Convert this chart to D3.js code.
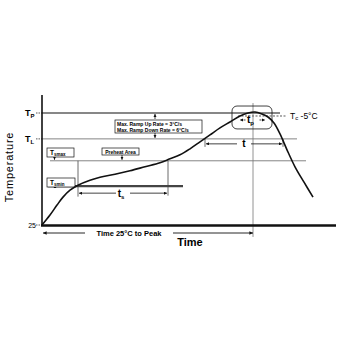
<!DOCTYPE html>
<html lang="en">
<head>
<meta charset="UTF-8">
<title>Reflow Profile</title>
<script src="https://cdnjs.cloudflare.com/ajax/libs/d3/7.8.5/d3.min.js"></script>
<style>
  body { margin: 0; background: #fff; }
  svg { display: block; font-family: Arial, "Liberation Sans", sans-serif; }
</style>
</head>
<body>
<svg id="svg" width="340" height="340"></svg>
<script>
// profile curve (time in s, temperature in schematic units)
const times = [0, 8, 15, 21, 28, 36, 48, 58, 73, 88, 103, 118, 128, 138, 148, 158, 168, 178, 188, 198, 206, 213, 220, 226, 232, 238, 245, 253, 262, 271];
const temps = [25, 45, 65, 81, 95, 105, 115, 121, 127, 134, 142, 150, 158, 166, 178, 192, 206, 220, 232, 244, 250, 252, 248, 242, 230, 208, 176, 142, 111, 81];

// reference levels
const levelNames = ["Tp", "TL", "Tsmax", "Tsmin"];
const levelTemps = [250, 198, 154, 103];
const levelStart = [0, 0, 8, 6];
const levelEnd = [238, 255, 264, 141];
const tcTemp = 244;

// time markers
const tsRange = [36, 126];
const tRange = [163, 241];
const tpRange = [198, 223];
const peakTime = 211;
const yTickLabels = ["TP", "TL", "25"];

const svg = d3.select("#svg");
const x = d3.scaleLinear().domain([0, 294]).range([42, 336]);
const y = d3.scaleLinear().domain([25, 250]).range([225, 113]);

const ink = "#111";
const grey = "#777";

svg.append("defs").append("marker")
  .attr("id", "ah").attr("viewBox", "0 0 6 6").attr("refX", 6).attr("refY", 3)
  .attr("markerWidth", 4).attr("markerHeight", 4).attr("orient", "auto-start-reverse")
  .append("path").attr("d", "M0,0L6,3L0,6Z").attr("fill", ink);

function hline(t0, t1, temp, color, w) {
  svg.append("line").attr("x1", x(t0)).attr("x2", x(t1))
    .attr("y1", y(temp)).attr("y2", y(temp))
    .attr("stroke", color).attr("stroke-width", w);
}
function vline(t, a, b, color, w) {
  svg.append("line").attr("x1", x(t)).attr("x2", x(t))
    .attr("y1", y(a)).attr("y2", y(b))
    .attr("stroke", color).attr("stroke-width", w);
}
function arrowH(t0, t1, temp, label, sub, dash) {
  const xm = (x(t0) + x(t1)) / 2;
  const gap = label ? 7 : 0;
  [[xm - gap, x(t0)], [xm + gap, x(t1)]].forEach(([a, b]) => {
    svg.append("line").attr("x1", a).attr("x2", b).attr("y1", y(temp)).attr("y2", y(temp))
      .attr("stroke", ink).attr("stroke-width", 0.8).attr("marker-end", "url(#ah)")
      .attr("stroke-dasharray", dash || null);
  });
  if (label) {
    const tx = svg.append("text").attr("x", xm - (sub ? 2 : 0)).attr("y", y(temp) + 3.5)
      .attr("text-anchor", "middle").attr("font-size", 10).attr("font-weight", "bold").text(label);
    if (sub) tx.append("tspan").attr("font-size", 6).attr("dy", 2).text(sub);
  }
}

// level lines
hline(levelStart[0], levelEnd[0], levelTemps[0], ink, 1.1);
hline(levelStart[1], levelEnd[1], levelTemps[1], grey, 0.9);
hline(levelStart[2], levelEnd[2], levelTemps[2], grey, 0.9);
hline(levelStart[3], levelEnd[3], levelTemps[3], "#444", 2.2);
// Tc - 5 dashed
svg.append("line").attr("x1", x(196)).attr("x2", x(244)).attr("y1", y(tcTemp)).attr("y2", y(tcTemp))
  .attr("stroke", ink).attr("stroke-width", 0.7).attr("stroke-dasharray", "2,1.5");
const tcText = svg.append("text").attr("x", x(248)).attr("y", y(tcTemp) + 3).attr("font-size", 8.5);
tcText.append("tspan").text("T");
tcText.append("tspan").attr("font-size", 6).attr("dy", 1.5).text("c");
tcText.append("tspan").attr("dy", -1.5).text(" -5°C");

// vertical guide lines
vline(tsRange[0], 154, 82, "#444", 0.8);
vline(tsRange[1], 154, 84, "#444", 0.8);
vline(tRange[0], 198, 182, "#444", 0.8);
vline(tRange[1], 198, 182, "#444", 0.8);
vline(peakTime, 270, 1, grey, 0.8);

// arrows
arrowH(tsRange[0] + 1, tsRange[1] - 1, 89, "t", "s");
arrowH(tRange[0] + 1, tRange[1] - 1, 188, "t", "");
arrowH(tpRange[0], tpRange[1], 236, "t", "p", "2,1");

// time 25C to peak
svg.append("line").attr("x1", x(0) + 1).attr("x2", x(peakTime)).attr("y1", 233).attr("y2", 233)
  .attr("stroke", ink).attr("stroke-width", 0.9)
  .attr("marker-end", "url(#ah)").attr("marker-start", "url(#ah)");
svg.append("rect").attr("x", 85).attr("y", 228).attr("width", 88).attr("height", 10).attr("fill", "#fff");
svg.append("text").attr("x", 129).attr("y", 236).attr("text-anchor", "middle")
  .attr("font-size", 7.5).attr("font-weight", "bold").text("Time 25°C to Peak");

// peak box
svg.append("rect").attr("x", x(190)).attr("y", y(264)).attr("width", x(230) - x(190))
  .attr("height", y(218) - y(264)).attr("rx", 5).attr("fill", "none")
  .attr("stroke", ink).attr("stroke-width", 0.8);

// ramp rate box with arrows
const rampLines = ["Max. Ramp Up Rate = 3°C/s", "Max. Ramp Down Rate = 6°C/s"];
svg.append("line").attr("x1", 155).attr("x2", 155).attr("y1", 119).attr("y2", y(levelTemps[0]) + 1)
  .attr("stroke", ink).attr("stroke-width", 0.8).attr("marker-end", "url(#ah)");
svg.append("line").attr("x1", 155).attr("x2", 155).attr("y1", 133).attr("y2", y(levelTemps[1]) - 1)
  .attr("stroke", ink).attr("stroke-width", 0.8).attr("marker-end", "url(#ah)");
svg.append("rect").attr("x", 115).attr("y", 120).attr("width", 87).attr("height", 13)
  .attr("fill", "#fff").attr("stroke", ink).attr("stroke-width", 0.7);
rampLines.forEach((s, i) => {
  svg.append("text").attr("x", 117).attr("y", 125.5 + i * 6).attr("font-size", 5)
    .attr("font-weight", "bold").text(s);
});

// Ts labels
function tagBox(bx, by, w, main, sub, targetTemp) {
  svg.append("line").attr("x1", bx + w / 2 - 6).attr("x2", bx + w / 2 - 6)
    .attr("y1", by + 8).attr("y2", y(targetTemp) - 1)
    .attr("stroke", ink).attr("stroke-width", 0.8).attr("marker-end", "url(#ah)");
  svg.append("rect").attr("x", bx).attr("y", by).attr("width", w).attr("height", 9)
    .attr("fill", "#fff").attr("stroke", ink).attr("stroke-width", 0.7);
  const t = svg.append("text").attr("x", bx + 3).attr("y", by + 6.5).attr("font-size", 6.5)
    .attr("font-weight", "bold").text(main);
  if (sub) t.append("tspan").attr("font-size", 4.5).attr("dy", 1).text(sub);
}
tagBox(47, 148, 27, "T", "smax", levelTemps[2]);
tagBox(47, 178, 28, "T", "smin", levelTemps[3]);
svg.append("line").attr("x1", 122).attr("x2", 122).attr("y1", 154).attr("y2", y(levelTemps[2]) - 1)
  .attr("stroke", ink).attr("stroke-width", 0.8).attr("marker-end", "url(#ah)");
svg.append("rect").attr("x", 102).attr("y", 148).attr("width", 37).attr("height", 7)
  .attr("fill", "#fff").attr("stroke", ink).attr("stroke-width", 0.7);
svg.append("text").attr("x", 120.5).attr("y", 153.5).attr("text-anchor", "middle")
  .attr("font-size", 5).attr("font-weight", "bold").text("Preheat Area");

// profile curve
const pts = times.map((t, i) => [x(t), y(temps[i])]);
svg.append("path").attr("d", d3.line().curve(d3.curveCatmullRom)(pts))
  .attr("fill", "none").attr("stroke", ink).attr("stroke-width", 1.6);

// axes
svg.append("line").attr("x1", 42).attr("x2", 42).attr("y1", 95).attr("y2", 226)
  .attr("stroke", ink).attr("stroke-width", 1.6);
svg.append("line").attr("x1", 41).attr("x2", 336).attr("y1", y(25) + 0.5).attr("y2", y(25) + 0.5)
  .attr("stroke", ink).attr("stroke-width", 2.4);

const tickTemps = [levelTemps[0], levelTemps[1], 25];
tickTemps.forEach((tv, i) => {
  svg.append("line").attr("x1", 36).attr("x2", 42).attr("y1", y(tv)).attr("y2", y(tv))
    .attr("stroke", ink).attr("stroke-width", 0.7).attr("stroke-dasharray", "1.5,1");
  const lbl = yTickLabels[i];
  if (lbl === "25") {
    svg.append("text").attr("x", 36).attr("y", y(tv) + 2.5).attr("text-anchor", "end")
      .attr("font-size", 7).text(lbl);
  } else {
    svg.append("text").attr("x", 25).attr("y", y(tv) + 3).attr("font-size", 9)
      .attr("font-weight", "bold").text(lbl[0])
      .append("tspan").attr("font-size", 6).attr("dy", 2).text(lbl[1]);
  }
});

svg.append("text").attr("x", 190).attr("y", 246).attr("text-anchor", "middle")
  .attr("font-size", 11).attr("font-weight", "bold").text("Time");
svg.append("text").attr("transform", "translate(13,167) rotate(-90)").attr("text-anchor", "middle")
  .attr("font-size", 11).attr("letter-spacing", 0.8).text("Temperature");
</script>
</body>
</html>
